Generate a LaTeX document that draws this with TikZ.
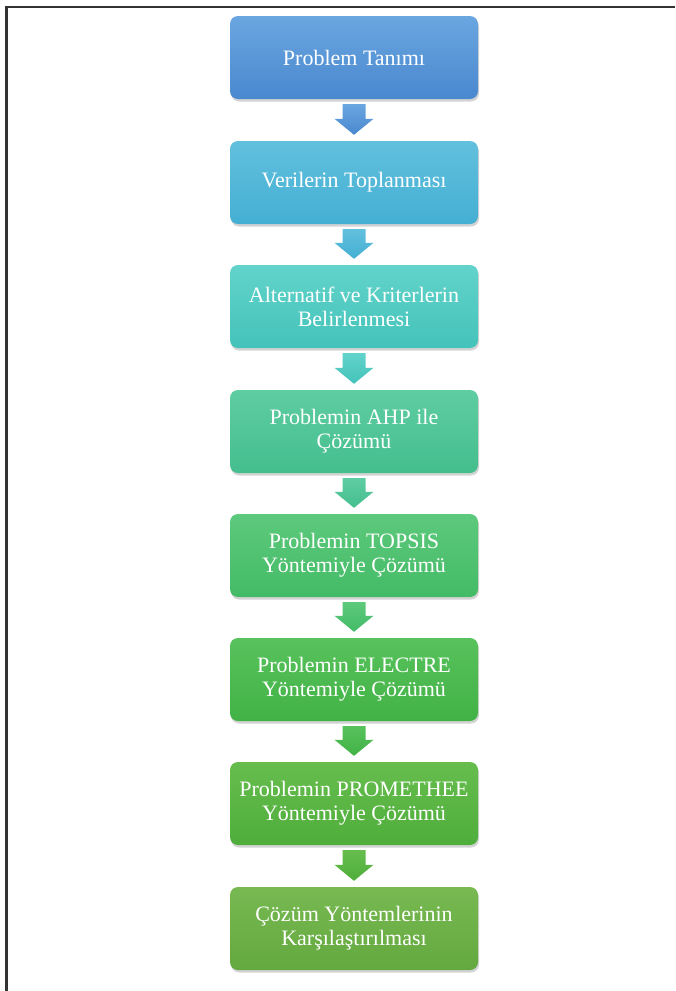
\documentclass[tikz,border=0pt]{standalone}
\usepackage{fontspec}
\setmainfont{Liberation Serif}
\usetikzlibrary{positioning, shadows}

% box colours, top -> bottom
\definecolor{tanimA}{HTML}{6AA6E0}\definecolor{tanimB}{HTML}{4A88CF}
\definecolor{veriA}{HTML}{62C0DD}\definecolor{veriB}{HTML}{44AFD3}
\definecolor{altA}{HTML}{62D3CA}\definecolor{altB}{HTML}{44C3BA}
\definecolor{ahpA}{HTML}{5FCDA2}\definecolor{ahpB}{HTML}{44BE8D}
\definecolor{topsA}{HTML}{5DC97C}\definecolor{topsB}{HTML}{43BB66}
\definecolor{elecA}{HTML}{58C25C}\definecolor{elecB}{HTML}{41B245}
\definecolor{promA}{HTML}{66BD4D}\definecolor{promB}{HTML}{4FAE3B}
\definecolor{karsA}{HTML}{78B952}\definecolor{karsB}{HTML}{63A93F}
\definecolor{frame}{HTML}{333333}

\tikzset{
  stepbox/.style={rounded corners=8pt, minimum width=248pt, minimum height=83pt,
    text=white, align=center, font=\fontsize{22}{24}\selectfont,
    drop shadow={opacity=0.35, shadow xshift=1pt, shadow yshift=-2.5pt}},
}

\begin{document}
\begin{tikzpicture}[x=1pt, y=-1pt]

\useasboundingbox (0,0) rectangle (675,991);

% ---- frame ----
\draw[frame, line width=2.5pt] (6.5,991) -- (6.5,7) -- (675,7);

% ---- steps ----
\node[stepbox, top color=tanimA, bottom color=tanimB] (tanim) at (354,57.5) {Problem Tanımı};
\node[stepbox, top color=veriA, bottom color=veriB] (veri) at (354,182.5) {Verilerin Toplanması};
\node[stepbox, top color=altA, bottom color=altB] (alt) at (354,306.5) {Alternatif ve Kriterlerin\\Belirlenmesi};
\node[stepbox, top color=ahpA, bottom color=ahpB] (ahp) at (354,431.5) {Problemin AHP ile\\Çözümü};
\node[stepbox, top color=topsA, bottom color=topsB] (topsis) at (354,555.5) {Problemin TOPSIS\\Yöntemiyle Çözümü};
\node[stepbox, top color=elecA, bottom color=elecB] (electre) at (354,679.5) {Problemin ELECTRE\\Yöntemiyle Çözümü};
\node[stepbox, top color=promA, bottom color=promB] (prom) at (354,803.5) {Problemin PROMETHEE\\Yöntemiyle Çözümü};
\node[stepbox, top color=karsA, bottom color=karsB] (kars) at (354,928.5) {Çözüm Yöntemlerinin\\Karşılaştırılması};

% ---- block arrows ----
\foreach \a/\b/\ca/\cb in {tanim/veri/tanimA/tanimB, veri/alt/veriA/veriB,
    alt/ahp/altA/altB, ahp/topsis/ahpA/ahpB, topsis/electre/topsA/topsB,
    electre/prom/elecA/elecB, prom/kars/promA/promB} {
  \shade[top color=\ca, bottom color=\cb]
    ([xshift=-11.5pt, yshift=-5pt]\a.south) -- ([xshift=11.5pt, yshift=-5pt]\a.south)
    -- ([xshift=11.5pt, yshift=22pt]\b.north) -- ([xshift=19.5pt, yshift=22pt]\b.north)
    -- ([yshift=6pt]\b.north) -- ([xshift=-19.5pt, yshift=22pt]\b.north)
    -- ([xshift=-11.5pt, yshift=22pt]\b.north) -- cycle;
}

\end{tikzpicture}
\end{document}
